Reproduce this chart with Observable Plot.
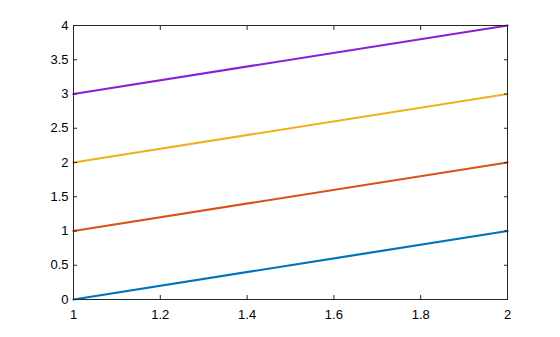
<!DOCTYPE html>
<html>
<head>
<meta charset="utf-8">
<script src="https://cdn.jsdelivr.net/npm/d3@7"></script>
<script src="https://cdn.jsdelivr.net/npm/@observablehq/plot@0.6"></script>
<style>
  html, body { margin: 0; padding: 0; background: #fff; }
  svg { display: block; }
</style>
</head>
<body>
<div id="chart"></div>
<script>
const xValues = [1, 2];
const series1 = [0, 1];
const series2 = [1, 2];
const series3 = [2, 3];
const series4 = [3, 4];
const seriesNames = ["s1", "s2", "s3", "s4"];
const seriesColors = ["#0072BD", "#D95319", "#EDB120", "#8A1FD8"];
const xTicks = [1, 1.2, 1.4, 1.6, 1.8, 2];
const yTicks = [0, 0.5, 1, 1.5, 2, 2.5, 3, 3.5, 4];

const allSeries = [series1, series2, series3, series4];
const rows = [];
allSeries.forEach((ys, i) => ys.forEach((y, j) => rows.push({x: xValues[j], y, s: seriesNames[i]})));

const fmt = d => String(d);

const chart = Plot.plot({
  width: 560,
  height: 337,
  marginLeft: 73,
  marginRight: 53,
  marginTop: 25,
  marginBottom: 38,
  style: {fontFamily: "'Liberation Sans', Arial, Helvetica, sans-serif", fontSize: "13px", color: "#000", background: "#fff"},
  x: {domain: [1, 2]},
  y: {domain: [0, 4]},
  color: {domain: seriesNames, range: seriesColors},
  marks: [
    Plot.line(rows, {x: "x", y: "y", z: "s", stroke: "s", strokeWidth: 2.2}),
    Plot.frame({stroke: "#262626", strokeWidth: 1}),
    Plot.axisX({anchor: "bottom", ticks: xTicks, tickSize: -4, tickPadding: 14, tickFormat: fmt, label: null, stroke: "#262626", fill: "#000"}),
    Plot.axisX({anchor: "top", ticks: xTicks, tickSize: -4, tickFormat: () => "", label: null, stroke: "#262626"}),
    Plot.axisY({anchor: "left", ticks: yTicks, tickSize: -4, tickPadding: 9, tickFormat: fmt, label: null, stroke: "#262626", fill: "#000"}),
    Plot.axisY({anchor: "right", ticks: yTicks, tickSize: -4, tickFormat: () => "", label: null, stroke: "#262626"})
  ]
});
document.getElementById("chart").appendChild(chart);
</script>
</body>
</html>
